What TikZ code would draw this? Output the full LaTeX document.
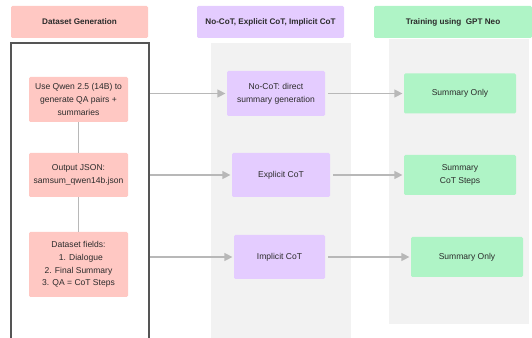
\documentclass[tikz,border=0pt]{standalone}
\usepackage{fontspec}
\setmainfont{Liberation Sans}
\usetikzlibrary{arrows.meta}

\definecolor{pinkfill}{HTML}{FFC8C3}
\definecolor{lilacfill}{HTML}{E4CCFF}
\definecolor{mintfill}{HTML}{AFF4C6}
\definecolor{lanegray}{HTML}{F2F2F2}
\definecolor{linkgray}{HTML}{B8B8B8}
\definecolor{framegray}{HTML}{555555}
\definecolor{inkgray}{HTML}{2B2B2B}

\tikzset{
  box/.style={rectangle, rounded corners=1pt, align=center, inner sep=0pt,
    text=inkgray, font=\fontsize{6.4}{9.5}\selectfont},
  headbox/.style={box, font=\fontsize{6.1}{9.5}\selectfont\bfseries},
  link/.style={draw=linkgray, line width=0.9pt},
  arrowlink/.style={link, -{Triangle[length=6pt,width=6pt]}, shorten >=1pt}
}

\begin{document}
\begin{tikzpicture}[x=0.75pt, y=-0.75pt]
    \def\u{0.75pt}
    \useasboundingbox (0,0) rectangle (532,338);

    % lanes
    \fill[lanegray] (211,43) rectangle (351,338);
    \fill[lanegray] (389,39) rectangle (529,324);
    \draw[framegray, line width=0.8pt] (11,338) -- (11,43) -- (149,43) -- (149,338);

    % headers
    \node[headbox, fill=pinkfill, minimum width=137*\u, minimum height=32*\u] (headdata) at (79.5,22) {Dataset Generation};
    \node[headbox, fill=lilacfill, minimum width=147*\u, minimum height=32*\u] (headcot) at (270.5,22) {No-CoT, Explicit CoT, Implicit CoT};
    \node[headbox, fill=mintfill, minimum width=158*\u, minimum height=32*\u] (headtrain) at (453,22) {Training using\ \ GPT Neo};

    % dataset generation
    \node[box, fill=pinkfill, minimum width=99*\u, minimum height=45*\u] (qwen) at (78.5,99.5) {Use Qwen 2.5 (14B) to\\generate QA pairs +\\summaries};
    \node[box, fill=pinkfill, minimum width=99*\u, minimum height=44*\u] (json) at (78.5,175) {Output JSON:\\samsum\_qwen14b.json};
    \node[box, fill=pinkfill, minimum width=99*\u, minimum height=65*\u] (fields) at (78.5,264.5) {Dataset fields:\\\ \ 1. Dialogue\\2. Final Summary\\3. QA = CoT Steps};
    \draw[link] (qwen) -- (json);
    \draw[link] (json) -- (fields);

    % cot variants
    \node[box, fill=lilacfill, minimum width=98*\u, minimum height=45*\u] (nocot) at (276,93.5) {No-CoT: direct\\summary generation};
    \node[box, fill=lilacfill, minimum width=98*\u, minimum height=44*\u] (explicit) at (281,175) {Explicit CoT};
    \node[box, fill=lilacfill, minimum width=91*\u, minimum height=44*\u] (implicit) at (279.5,257) {Implicit CoT};

    % training
    \node[box, fill=mintfill, minimum width=112*\u, minimum height=40*\u] (sumonly) at (460,93.5) {Summary Only};
    \node[box, fill=mintfill, minimum width=112*\u, minimum height=40*\u] (sumsteps) at (460,175) {Summary\\CoT Steps};
    \node[box, fill=mintfill, minimum width=112*\u, minimum height=40*\u] (sumonlyb) at (467,257) {Summary Only};

    % links
    \coordinate (outa) at (150,93.5);
    \coordinate (outb) at (150,175);
    \coordinate (outc) at (150,257);
    \draw[arrowlink] (outa) -- (nocot.west);
    \draw[arrowlink] (outb) -- (explicit.west);
    \draw[arrowlink] (outc) -- (implicit.west);
    \draw[arrowlink, shorten <=2pt] (nocot.east) -- (sumonly.west);
    \draw[arrowlink, shorten <=2pt] (explicit.east) -- (sumsteps.west);
    \draw[arrowlink, shorten <=2pt] (implicit.east) -- (sumonlyb.west);
\end{tikzpicture}
\end{document}
